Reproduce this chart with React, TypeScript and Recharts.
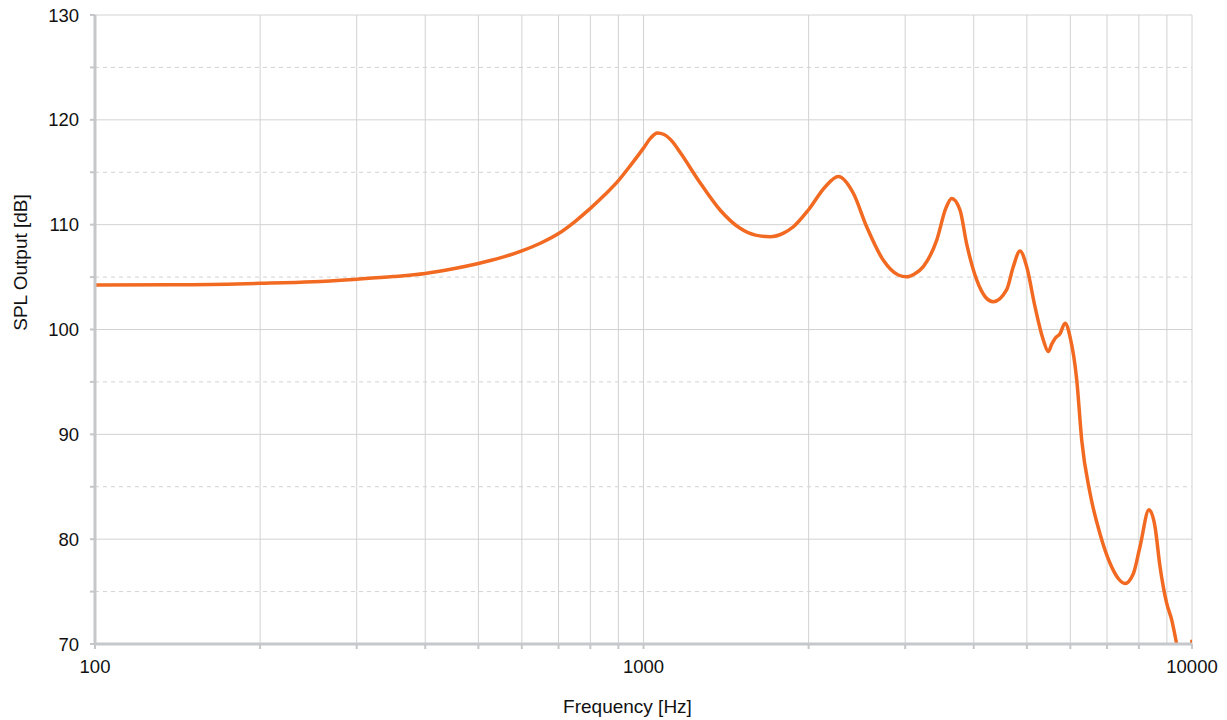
import { LineChart, Line, XAxis, YAxis, CartesianGrid, ReferenceLine } from 'recharts';

// frequency response (Hz, dB SPL)
const freqs = [
  100, 150, 200, 250, 300, 350, 400, 450, 500, 550, 600, 650, 700, 750, 800, 850, 900, 950,
  1000, 1030, 1060, 1090, 1130, 1166, 1268, 1379, 1500, 1600, 1701, 1800, 1876, 1998, 2143, 2265,
  2413, 2552, 2737, 2914, 3019, 3120, 3237, 3423, 3560, 3647, 3776, 3882, 4052, 4200, 4343,
  4593, 4723, 4858, 4995, 5172, 5357, 5470, 5550, 5627, 5746, 5868, 5993, 6164, 6294, 6517,
  6797, 7089, 7338, 7547, 7816, 8040, 8349, 8561, 8743, 8991, 9183, 9376, 9700, 10000,
];
const spl = [
  104.25, 104.28, 104.4, 104.55, 104.8, 105.05, 105.35, 105.8, 106.3, 106.85, 107.5, 108.25, 109.15, 110.3, 111.55, 112.85, 114.2, 115.75,
  117.3, 118.25, 118.75, 118.6, 117.9, 116.9, 114.0, 111.4, 109.65, 109.0, 108.85, 109.2, 109.8, 111.4, 113.6, 114.6,
  113.0, 109.8, 106.6, 105.2, 105.03, 105.3, 106.0, 108.5, 111.6, 112.5, 111.4, 108.2, 104.7, 103.1, 102.65,
  103.8, 106.0, 107.5, 106.0, 102.2, 99.0, 97.9, 98.6, 99.15, 99.6, 100.6, 99.3, 95.2, 89.45, 84.4,
  80.5, 77.7, 76.25, 75.77, 76.7, 79.3, 82.8, 81.2, 77.4, 73.9, 72.3, 70.0, 65.5, 70.4,
];

const xTicks = [
  100, 200, 300, 400, 500, 600, 700, 800, 900,
  1000, 2000, 3000, 4000, 5000, 6000, 7000, 8000, 9000, 10000,
];
const xLabels = [100, 1000, 10000];
const yTicks = [70, 75, 80, 85, 90, 95, 100, 105, 110, 115, 120, 125, 130];
const yLabels = [70, 80, 90, 100, 110, 120, 130];

const data = freqs.map((f, i) => ({ f, spl: spl[i] }));

const axisColor = '#c5c7cb';
const gridColor = '#d2d2d2';
const font = { fontFamily: '"Liberation Sans", Arial, sans-serif', fontSize: 18.5, fill: '#111' };

export default function App() {
  return (
    <div style={{ position: 'absolute', left: 0, top: 0, background: '#fff' }}>
      <LineChart width={1227} height={720} data={data} margin={{ top: 15, right: 35, left: 8, bottom: 0 }}>
        <CartesianGrid horizontal={false} stroke={gridColor} strokeWidth={1} />
        {yTicks.filter((v) => v > 70).map((v) => (
          <ReferenceLine
            key={v}
            y={v}
            stroke={gridColor}
            strokeWidth={1}
            strokeDasharray={v % 10 === 0 ? undefined : '4 4'}
          />
        ))}
        <XAxis
          dataKey="f"
          type="number"
          scale="log"
          domain={[100, 10000]}
          ticks={xTicks}
          allowDataOverflow
          height={76}
          tickSize={5}
          tickMargin={11}
          axisLine={{ stroke: axisColor, strokeWidth: 3 }}
          tickLine={{ stroke: axisColor, strokeWidth: 2 }}
          tick={font}
          tickFormatter={(v) => (xLabels.includes(v) ? String(v) : '')}
          label={{
            value: 'Frequency [Hz]',
            position: 'insideBottom',
            offset: 7,
            dx: -16,
            style: { ...font, fontSize: 19 },
          }}
        />
        <YAxis
          type="number"
          domain={[70, 130]}
          ticks={yTicks}
          allowDataOverflow
          width={87}
          tickSize={5}
          tickMargin={11}
          axisLine={{ stroke: axisColor, strokeWidth: 3 }}
          tickLine={{ stroke: axisColor, strokeWidth: 2 }}
          tick={font}
          tickFormatter={(v) => (yLabels.includes(v) ? String(v) : '')}
          label={{
            value: 'SPL Output [dB]',
            angle: -90,
            position: 'insideLeft',
            offset: 12,
            dy: -67,
            style: { ...font, fontSize: 19, textAnchor: 'middle' },
          }}
        />
        <Line
          type="monotone"
          dataKey="spl"
          stroke="#f26a21"
          strokeWidth={3.5}
          dot={false}
          activeDot={false}
          isAnimationActive={false}
        />
      </LineChart>
    </div>
  );
}
